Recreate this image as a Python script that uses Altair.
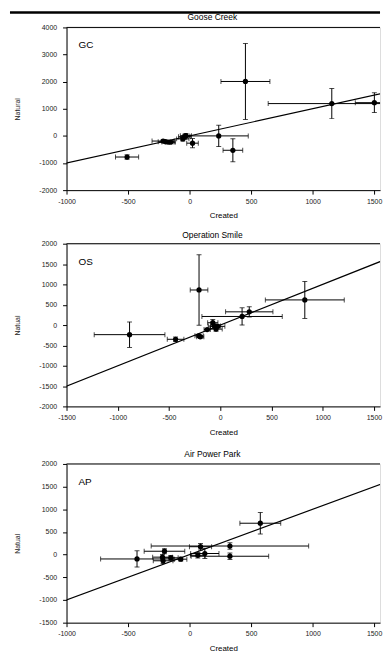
import altair as alt
import pandas as pd

# ---------------- data ----------------
# Goose Creek
gc_x = [-508, -215, -195, -175, -155, -55, -40, -30, 24, 237, 352, 454, 1156, 1502]
gc_y = [-779, -190, -215, -225, -230, -110, -30, 10, -268, 0, -530, 2007, 1192, 1226]
gc_xerr = [94, 90, 60, 50, 40, 50, 50, 45, 47, 240, 80, 199, 517, 155]
gc_yerr = [80, 40, 40, 40, 40, 80, 90, 80, 170, 395, 425, 1400, 555, 365]

# Operation Smile
os_x = [-885, -436, -207, -207, -195, -128, -73, -57, -41, -25, 213, 283, 825]
os_y = [-236, -350, 862, -265, -290, -110, 57, -25, -100, -32, 211, 325, 618]
os_xerr = [345, 81, 86, 40, 35, 30, 50, 60, 60, 70, 392, 231, 385]
os_yerr = [313, 55, 866, 40, 35, 25, 80, 60, 50, 40, 212, 126, 455]

# Air Power Park
ap_x = [-427, -204, -220, -215, -153, -72, 67, 89, 124, 328, 328, 575]
ap_y = [-95, 75, -55, -135, -70, -100, -15, 175, 25, 190, -35, 693]
ap_xerr = [296, 165, 80, 80, 60, 50, 60, 90, 115, 640, 315, 166]
ap_yerr = [180, 55, 60, 60, 50, 40, 60, 70, 110, 70, 70, 237]

# 1:1 reference line
ref_x = [-2000, 2000]
ref_y = [-2000, 2000]

FONT = "Liberation Sans"
W = 316


def panel(xs, ys, xerr, yerr, title, label, ytitle, xdom, ydom, xticks, yticks, h,
          title_y=-9, top_bar=False, top_extent=None):
    df = pd.DataFrame({"x": xs, "y": ys, "xe": xerr, "ye": yerr})
    df["xlo"] = df["x"] - df["xe"]
    df["xhi"] = df["x"] + df["xe"]
    df["ylo"] = df["y"] - df["ye"]
    df["yhi"] = df["y"] + df["ye"]

    xs_ = alt.Scale(domain=xdom, nice=False, zero=False)
    ys_ = alt.Scale(domain=ydom, nice=False, zero=False)
    xax = alt.Axis(values=xticks, title="Created", labelExpr="toString(datum.value)",
                   grid=False, tickSize=4, labelPadding=3, labelFontSize=7, titleFontSize=8,
                   titleFontWeight="normal", titlePadding=8, labelFont=FONT, titleFont=FONT,
                   labelOverlap=False, labelFlush=False, labelSeparation=0,
                   domainColor="black", tickColor="black",
                   labelColor="#222", titleColor="black")
    yax = alt.Axis(values=yticks, title=ytitle, labelExpr="toString(datum.value)",
                   grid=False, tickSize=4, labelPadding=6, labelFontSize=7, titleFontSize=7,
                   titleFontWeight="normal", titlePadding=18, labelFont=FONT, titleFont=FONT,
                   labelOverlap=False, labelFlush=False, labelSeparation=0,
                   domainColor="black", tickColor="black",
                   labelColor="#222", titleColor="#222")

    def X(f):
        return alt.X(f"{f}:Q", scale=xs_, axis=xax)

    def Y(f):
        return alt.Y(f"{f}:Q", scale=ys_, axis=yax)

    base = alt.Chart(df)
    pts = base.mark_circle(size=28, color="black", opacity=1, clip=True).encode(
        x=X("x"), y=Y("y"))
    hbar = base.mark_rule(color="black", strokeWidth=1, clip=True).encode(
        x=X("xlo"), x2="xhi:Q", y=Y("y"))
    vbar = base.mark_rule(color="black", strokeWidth=1, clip=True).encode(
        y=Y("ylo"), y2="yhi:Q", x=X("x"))
    caps = []
    for c in ["xlo", "xhi"]:
        caps.append(base.mark_tick(orient="vertical", color="black", size=5, thickness=1, clip=True).encode(
            x=X(c), y=Y("y")))
    for c in ["ylo", "yhi"]:
        caps.append(base.mark_tick(orient="horizontal", color="black", size=5, thickness=1, clip=True).encode(
            y=Y(c), x=X("x")))

    ref = alt.Chart(pd.DataFrame({"rx": ref_x, "ry": ref_y})).mark_line(
        color="black", strokeWidth=1.2, clip=True).encode(x=X("rx"), y=Y("ry"))

    lab_df = pd.DataFrame({"t": [label], "ttl": [title]})
    lab = alt.Chart(lab_df).mark_text(align="left", baseline="middle", fontSize=10,
                                      font=FONT, color="black").encode(
        x=alt.value(12), y=alt.value(18), text="t:N")
    ttl = alt.Chart(lab_df).mark_text(align="center", baseline="middle", fontSize=8.5,
                                      font=FONT, color="black").encode(
        x=alt.value(147), y=alt.value(title_y), text="ttl:N")
    topline = alt.Chart(lab_df).mark_rule(color="black", strokeWidth=1).encode(
        x=alt.value(0), x2=alt.value(W), y=alt.value(0))

    layers = [ref, hbar, vbar] + caps + [pts, lab, ttl, topline]
    if top_bar:
        layers.append(alt.Chart(lab_df).mark_rule(color="black", strokeWidth=2.5).encode(
            x=alt.value(-57), x2=alt.value(W), y=alt.value(-15)))
    if top_extent is not None:
        layers.append(alt.Chart(lab_df).mark_rule(color="white", opacity=0, strokeWidth=1).encode(
            x=alt.value(0), x2=alt.value(10), y=alt.value(top_extent)))

    return alt.layer(*layers).properties(width=W, height=h)


p1 = panel(gc_x, gc_y, gc_xerr, gc_yerr, "Goose Creek", "GC", "Natural",
           [-1000, 1548], [-2000, 4000], [-1000, -500, 0, 500, 1000, 1500],
           [-2000, -1000, 0, 1000, 2000, 3000, 4000], 164, title_y=-10, top_bar=True)
p2 = panel(os_x, os_y, os_xerr, os_yerr, "Operation Smile", "OS", "Natual",
           [-1500, 1559], [-2000, 2000], [-1500, -1000, -500, 0, 500, 1000, 1500],
           [-2000, -1500, -1000, -500, 0, 500, 1000, 1500, 2000], 164, title_y=-8.5)
p3 = panel(ap_x, ap_y, ap_xerr, ap_yerr, "Air Power Park", "AP", "Natual",
           [-1000, 1548], [-1500, 2000], [-1000, -500, 0, 500, 1000, 1500],
           [-1500, -1000, -500, 0, 500, 1000, 1500, 2000], 160, title_y=-10, top_extent=-16)

chart = alt.vconcat(p1, p2, p3, spacing=10).properties(
    padding={"left": 0, "top": 0, "right": 0, "bottom": 0}
).configure_view(stroke=None).configure(background="white")

chart.save("out.html", embed_options={"renderer": "svg", "actions": False})
